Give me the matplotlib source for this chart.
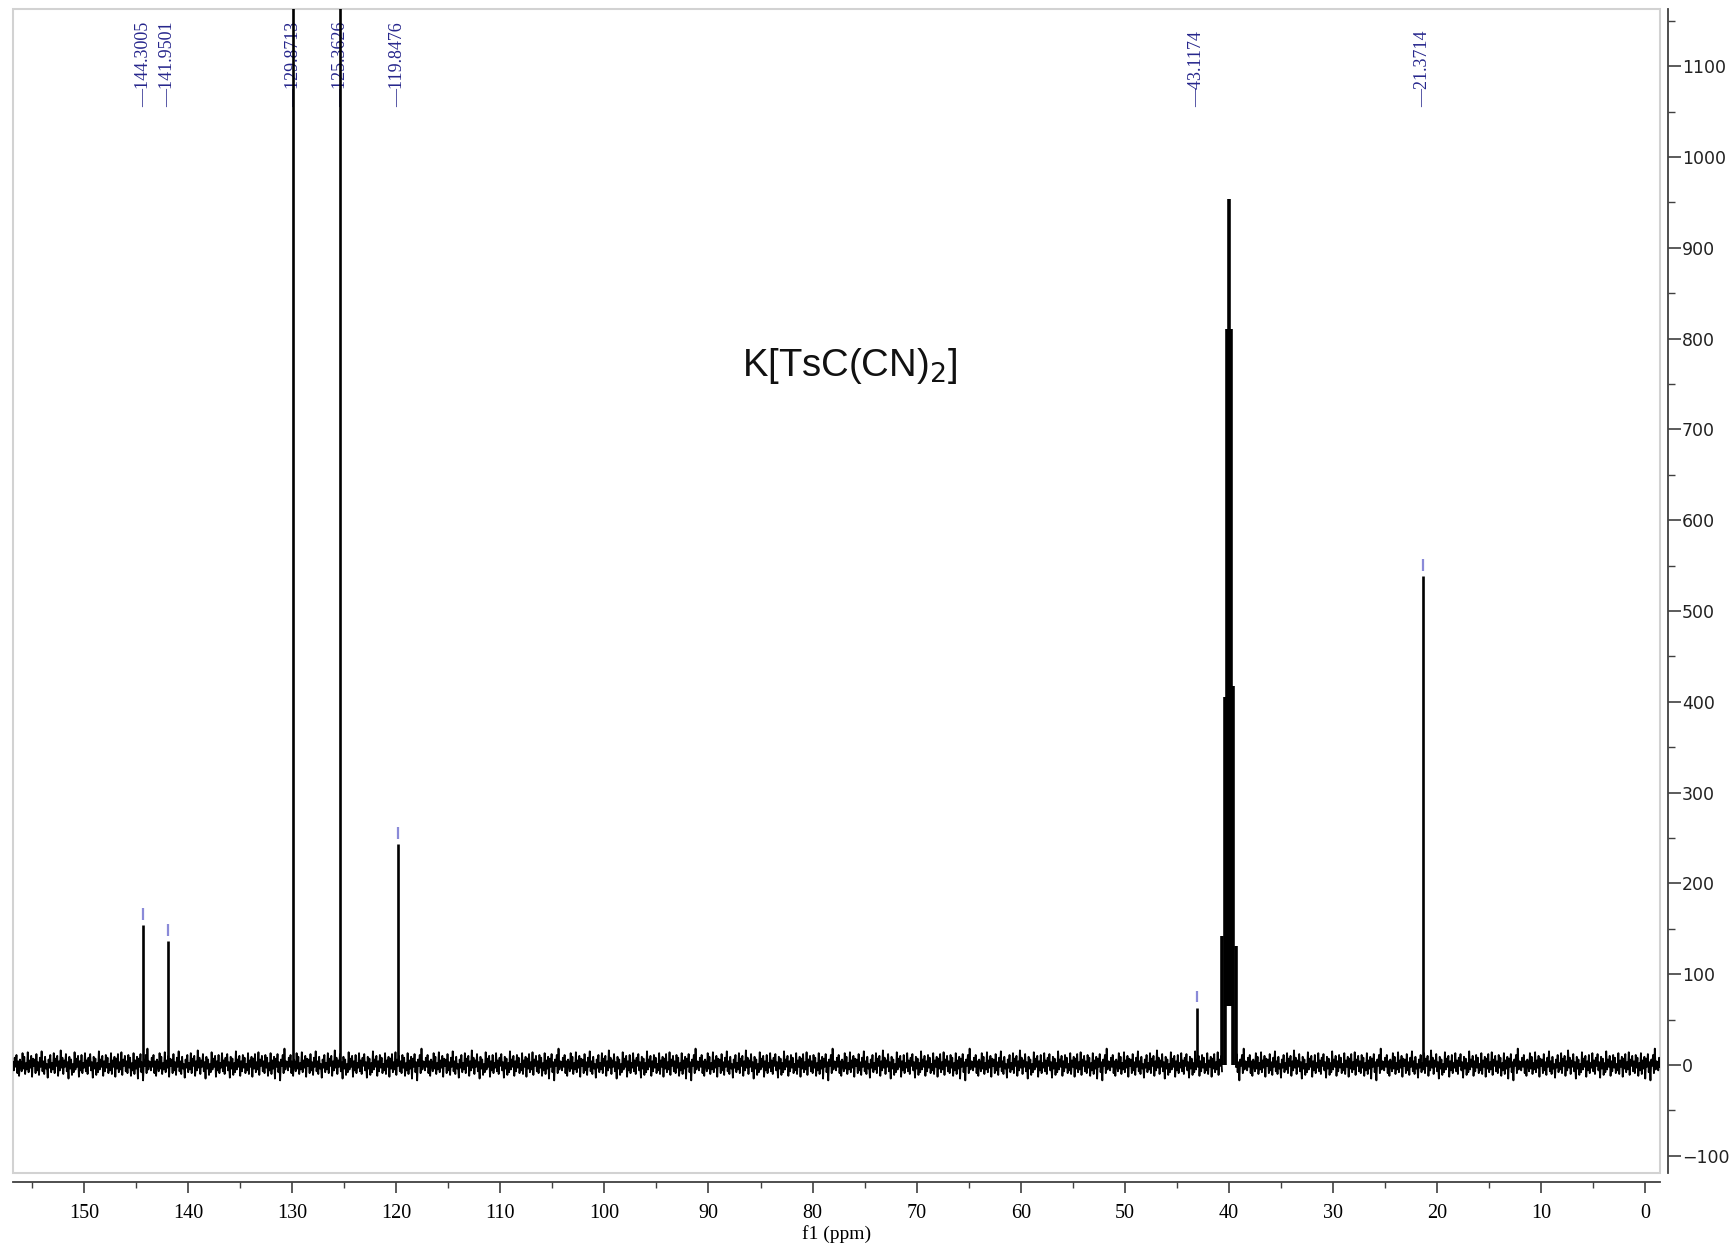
import numpy as np
import matplotlib
matplotlib.use('Agg')
import matplotlib.pyplot as plt
from matplotlib.patches import Rectangle
from matplotlib.ticker import MultipleLocator

# labelled peaks (ppm, intensity); the two aromatic CH peaks run off the top
peak_ppm = [144.3005, 141.9501, 129.8713, 125.3626, 119.8476, 43.1174, 21.3714]
peak_height = [154, 136, 2600, 2400, 243, 63, 538]
peak_labels = ['144.3005', '141.9501', '129.8713', '125.3626', '119.8476', '43.1174', '21.3714']

# DMSO-d6 septet
dmso_ppm = [40.63, 40.42, 40.21, 40.00, 39.79, 39.58, 39.37]
dmso_height = [142, 405, 811, 954, 811, 417, 131]
dmso_base = [0, 0, 65, 65, 65, 0, 0]

# baseline noise sample
noise = [3, -6, 8, -2, 11, -9, 4, -12, 6, 1, -7, 13, -4, 9, -10, 2, -5, 14, -8, 5,
         -3, 10, -13, 7, -1, 6, -9, 12, -6, 3, -11, 8, -2, 15, -7, 4, -10, 9, -4, 1,
         -14, 6, -3, 11, -8, 2, -5, 13, -9, 7, -1, 10, -12, 4, -6, 16, -3, 8, -10, 5,
         -2, 12, -7, 3, -15, 9, -4, 6, -11, 1, -8, 14, -5, 7, -2, 10, -13, 4, -6, 11,
         -9, 2, -3, 13, -7, 5, -10, 8, -1, 12, -6, 3, -14, 9, -4, 7, -11, 2, -8, 15,
         -5, 6, -2, 10, -12, 4, -7, 11, -3, 8, -9, 1, -6, 13, -10, 5, -2, 9, -13, 7,
         -4, 12, -8, 3, -5, 14, -11, 6, -1, 10, -7, 4, -9, 11, -3, 8, -12, 2, -6, 13,
         -10, 5, -4, 9, -15, 7, -2, 12, -8, 3, -17, 6, -1, 11, -9, 18, -5, 4]

title_text = 'K[TsC(CN)$_2$]'

fig = plt.figure(figsize=(17.3, 12.46), dpi=100)
ax = fig.add_axes([13 / 1730, 1 - 1173 / 1246, 1647 / 1730, 1164 / 1246])

x_left, x_right = 156.8, -1.4
ax.set_xlim(x_left, x_right)
ax.set_ylim(-119, 1163)

# baseline
ppm = np.linspace(x_left, x_right, 1900)
base = np.resize(np.array(noise, dtype=float), ppm.size)
base[(ppm > 39.4) & (ppm < 40.6)] = np.nan
ax.plot(ppm, base, color='black', lw=1.3, zorder=3)

# peaks
ax.vlines(peak_ppm, 0, peak_height, color='black', lw=1.9, zorder=4)
ax.vlines(dmso_ppm, dmso_base, dmso_height, color='black', lw=2.6, zorder=4)

# small markers above the visible peak tops
for p, h in zip(peak_ppm, peak_height):
    if h < 1100:
        ax.vlines(p, h + 6, h + 19, color='#8a8ad8', lw=1.6, zorder=4)

# peak labels along the top
trans = ax.get_xaxis_transform()
for p, lab in zip(peak_ppm, peak_labels):
    ax.text(p, 0.9158, '\u2014' + lab, transform=trans, rotation=90,
            ha='center', va='bottom', color='#26268c',
            family='Liberation Serif', fontsize=13, zorder=2)

ax.text(76.4, 759, title_text, ha='center', va='baseline',
        family='Liberation Sans', fontsize=27.5, color='#111111')

# frame and axes
ax.add_patch(Rectangle((0, 0), 1, 1, transform=ax.transAxes, fill=False,
                       edgecolor='#d2d2d2', lw=1.5, clip_on=False, zorder=1))
ax.spines['top'].set_visible(False)
ax.spines['left'].set_visible(False)
ax.spines['bottom'].set_position(('outward', 6.5))
ax.spines['right'].set_position(('outward', 5.8))
for s in ('bottom', 'right'):
    ax.spines[s].set_color('#404040')
    ax.spines[s].set_linewidth(1.3)

ax.xaxis.set_major_locator(MultipleLocator(10))
ax.xaxis.set_minor_locator(MultipleLocator(5))
ax.yaxis.tick_right()
ax.set_yticks(range(-100, 1101, 100))
ax.yaxis.set_minor_locator(MultipleLocator(50))

ax.tick_params(axis='x', which='major', length=8, width=1.2, color='#404040',
               labelsize=14.5, pad=8)
ax.tick_params(axis='x', which='minor', length=4, width=1.0, color='#404040')
ax.tick_params(axis='y', which='major', length=9, width=1.2, color='#404040',
               labelsize=12.5, pad=1)
ax.tick_params(axis='y', which='minor', length=5, width=1.0, color='#404040')
for t in ax.get_xticklabels():
    t.set_family('Liberation Serif')
for t in ax.get_yticklabels():
    t.set_family('DejaVu Sans')
    t.set_color('#222222')

ax.set_xlabel('f1 (ppm)', family='Liberation Serif', fontsize=14, labelpad=1)

fig.savefig('out.png', dpi=100)
